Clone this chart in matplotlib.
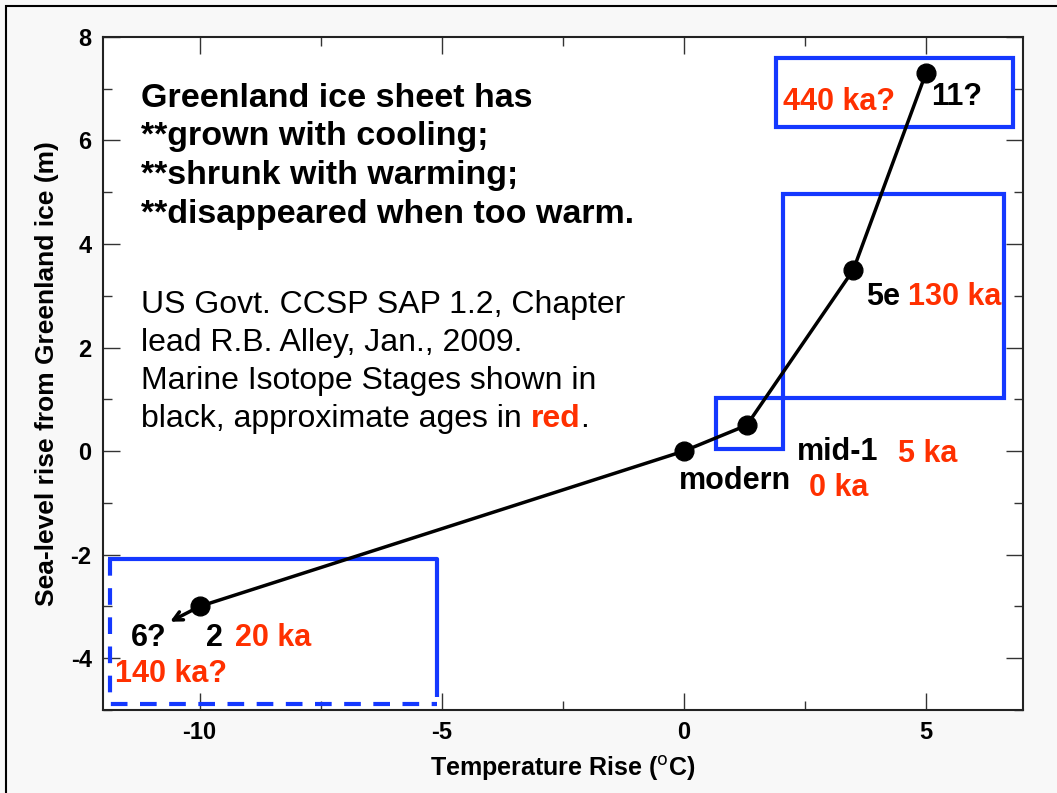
import matplotlib
matplotlib.use("Agg")
import matplotlib.pyplot as plt
from matplotlib.patches import Rectangle
from matplotlib.ticker import MultipleLocator

# data
temperatura = [-10, 0, 1.3, 3.5, 5]        # temperature rise (C)
nivel_mar = [-3, 0, 0.5, 3.5, 7.3]         # sea-level rise (m)
estagios = ["2", "modern", "mid-1", "5e", "11?"]
idades = ["20 ka", "0 ka", "5 ka", "130 ka", "440 ka?"]

# stage 6 guess, shown with an arrow from stage 2
seta_inicio = (-10, -3)
seta_fim = (-10.66, -3.32)

# highlight boxes (x0, y0, x1, y1) in data units
caixas = [(1.9, 6.26, 6.8, 7.59), (2.05, 1.02, 6.62, 4.97), (0.66, 0.04, 2.04, 1.02)]
caixa_frio = (-11.84, -4.89, -5.09, -2.09)

texto_titulo = ["Greenland ice sheet has", "**grown with cooling;", "**shrunk with warming;",
                "**disappeared when too warm."]
texto_fonte = ["US Govt. CCSP SAP 1.2, Chapter", "lead R.B. Alley, Jan., 2009.",
               "Marine Isotope Stages shown in"]

AZUL = "#1438ff"
VERMELHO = "#ff3000"

plt.rcParams["font.family"] = ["Liberation Sans", "DejaVu Sans"]
plt.rcParams["axes.unicode_minus"] = False

fig = plt.figure(figsize=(10.57, 7.93), dpi=100, facecolor="#f8f8f8")
ax = fig.add_axes([0.0972, 0.1047, 0.8704, 0.8487])

# frame around the page (left and top edges visible)
fig.patches.append(Rectangle((0.0057, -0.1), 1.2, 1.093, transform=fig.transFigure,
                             fill=False, lw=1.5, ec="black"))

ax.plot(temperatura, nivel_mar, color="black", lw=2.5, marker="o", ms=13.5, zorder=5)
ax.annotate("", xy=seta_fim, xytext=seta_inicio,
            arrowprops=dict(arrowstyle="->", color="black", lw=2.5, mutation_scale=16))

for x0, y0, x1, y1 in caixas:
    ax.add_patch(Rectangle((x0, y0), x1 - x0, y1 - y0, fill=False, ec=AZUL, lw=3, zorder=4))

x0, y0, x1, y1 = caixa_frio
ax.plot([x0 - 0.05, x1, x1], [y1, y1, y0 + 0.14], color=AZUL, lw=3, solid_capstyle="butt", zorder=4)
ax.plot([x0, x0, x1], [y1, y0, y0], color=AZUL, lw=3, ls=(0, (4, 3)), zorder=4)

# labels: stage in black, age in red, offsets in points from each point
desloc_estagio = [(4.3, -28.8), (-3.6, -27.4), (36, -25.2), (9.4, -25.2), (3.5, -23)]
desloc_idade = [(25.2, -28.8), (90, -32.4), (108.7, -26.6), (39.6, -25.2), (-103, -26.6)]
for x, y, s, a, ds, da in zip(temperatura, nivel_mar, estagios, idades, desloc_estagio, desloc_idade):
    ax.annotate(s, (x, y), xytext=ds, textcoords="offset points", ha="left", va="baseline",
                fontsize=22, weight="bold", color="black", zorder=6)
    ax.annotate(a, (x, y), xytext=da, textcoords="offset points", ha="left", va="baseline",
                fontsize=22, weight="bold", color=VERMELHO, zorder=6)
ax.annotate("6?", seta_inicio, xytext=(-49.7, -28.8), textcoords="offset points", ha="left",
            va="baseline", fontsize=22, weight="bold", color="black")
ax.annotate("140 ka?", seta_inicio, xytext=(-61.2, -54.7), textcoords="offset points", ha="left",
            va="baseline", fontsize=22, weight="bold", color=VERMELHO)

# text blocks, one line at a time
for i, linha in enumerate(texto_titulo):
    ax.text(-11.21, 6.653 - 0.749 * i, linha, fontsize=24.5, weight="bold", ha="left", va="baseline")
for i, linha in enumerate(texto_fonte):
    ax.text(-11.21, 2.667 - 0.734 * i, linha, fontsize=23, ha="left", va="baseline")
t1 = ax.text(-11.21, 2.667 - 0.734 * 3, "black, approximate ages in", fontsize=23,
             ha="left", va="baseline")
t2 = ax.annotate("red", xy=(1, 0), xycoords=t1, xytext=(6.4, 0), textcoords="offset points",
                 fontsize=23, weight="bold", color=VERMELHO, ha="left", va="bottom")
ax.annotate(".", xy=(1, 0), xycoords=t2, fontsize=23, ha="left", va="bottom")

ax.set_xlim(-12, 7)
ax.set_ylim(-5, 8)
ax.xaxis.set_major_locator(MultipleLocator(5))
ax.xaxis.set_minor_locator(MultipleLocator(2.5))
ax.yaxis.set_major_locator(MultipleLocator(2))
ax.yaxis.set_minor_locator(MultipleLocator(1))
ax.set_yticks([-4, -2, 0, 2, 4, 6, 8])
ax.tick_params(which="both", direction="in", top=True, right=True, width=1, color="#333333",
               labelsize=17, pad=8)
ax.tick_params(which="major", length=12)
ax.tick_params(which="minor", length=6.5)
for lbl in ax.get_xticklabels() + ax.get_yticklabels():
    lbl.set_fontweight("bold")
for sp in ax.spines.values():
    sp.set_linewidth(1.5)
    sp.set_color("#222222")

ax.set_xlabel("Temperature Rise ($^{\\mathrm{o}}$C)", fontsize=18, weight="bold", labelpad=7)
ax.set_ylabel("Sea-level rise from Greenland ice (m)", fontsize=19, weight="bold", labelpad=8)

fig.savefig("out.png", dpi=100, facecolor=fig.get_facecolor())
